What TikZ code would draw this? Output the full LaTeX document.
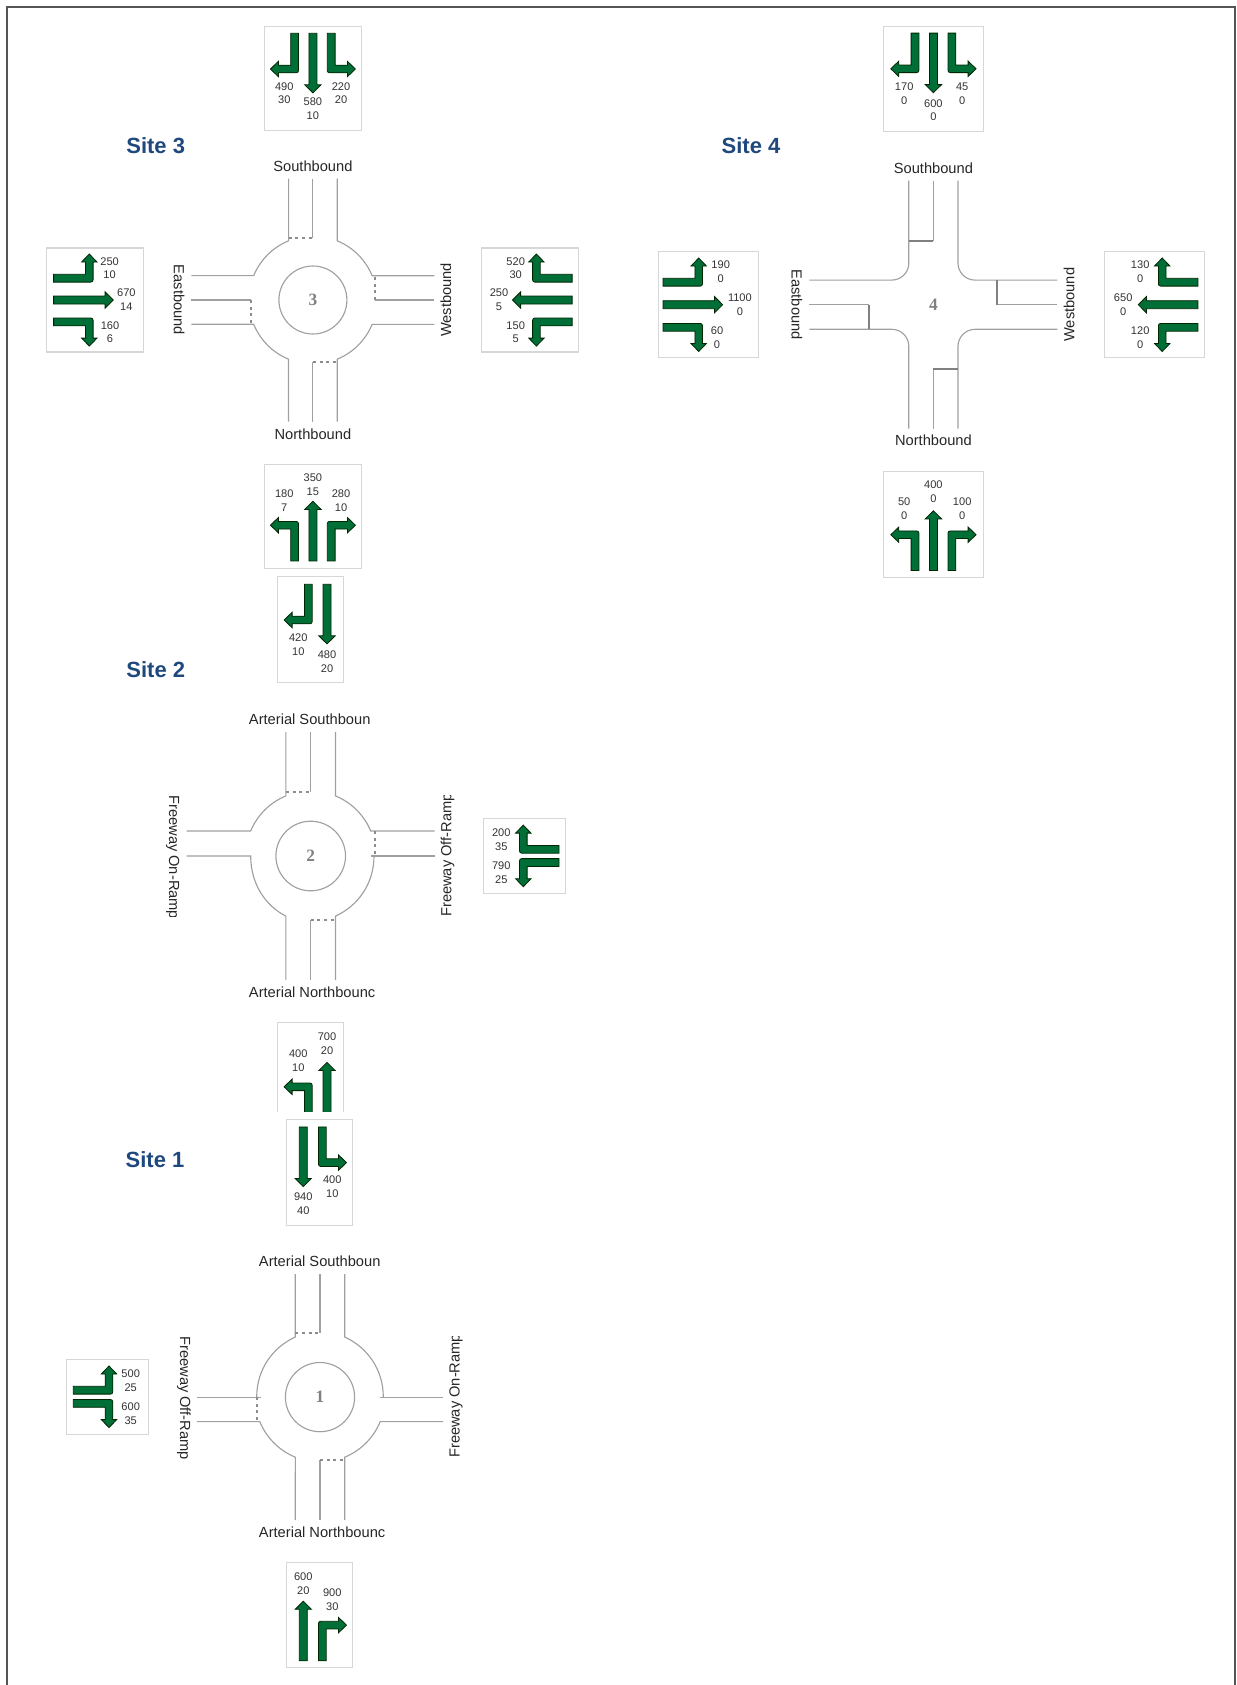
\documentclass[tikz,border=0pt]{standalone}
\usepackage{fontspec}
\setmainfont{Liberation Sans}
\newfontfamily\digitfont{Liberation Serif}
\usepackage{xcolor}
\definecolor{sitetitle}{RGB}{31,73,125}
\definecolor{turngreen}{RGB}{0,110,55}
\definecolor{roadgray}{RGB}{160,160,160}
\definecolor{boxgray}{RGB}{215,215,215}
\definecolor{framegray}{RGB}{85,85,85}
\newcommand{\turnpath}{(-3.9,0) -- (-3.9,-31.9) -- (-16.2,-31.9) -- (-16.2,-28) -- (-24.2,-35.7)
  -- (-16.2,-43.4) -- (-16.2,-39.5) -- (1.7,-39.5) arc[start angle=-90,end angle=0,radius=2.2] -- (3.9,0) -- cycle}

\begin{document}
\begin{tikzpicture}[
    x=0.75pt,y=0.75pt,
    sigbox/.style={rectangle,draw=boxgray,fill=white,line width=0.8pt,inner sep=0pt,outer sep=0pt},
    boxthree/.style={sigbox,minimum width=72.8pt,minimum height=78pt},
    boxfour/.style={sigbox,minimum width=75pt,minimum height=79.3pt},
    boxtall/.style={sigbox,minimum width=49.6pt,minimum height=79pt},
    boxside/.style={sigbox,minimum width=61.4pt,minimum height=56.2pt},
    vol/.style={font=\fontsize{8.3}{10.4}\selectfont,align=center,inner sep=0pt,text=black!80},
    approach/.style={font=\fontsize{11}{13}\selectfont,inner sep=0pt,text=black!85},
    sitename/.style={font=\fontsize{16.5}{19}\selectfont\bfseries,text=sitetitle,inner sep=0pt},
    sitenum/.style={font=\fontsize{13}{15}\selectfont\digitfont\bfseries,text=black!50,inner sep=0pt},
    road/.style={draw=roadgray,line width=0.85pt},
    yieldline/.style={draw=black!45,line width=1.5pt,dash pattern=on 2.2pt off 2.8pt},
    stopline/.style={draw=black!50,line width=1.5pt},
    signal/.style={draw=black!85!green,fill=turngreen,line width=0.6pt,line join=miter},
    thru/.pic={
      \path[signal] (-4,0) -- (-4,-51.5) -- (-8.2,-51.5) -- (0,-59.6) -- (8.2,-51.5) -- (4,-51.5) -- (4,0) -- cycle;
    },
    turnl/.pic={
      \path[signal] \turnpath;
    },
    turnr/.pic={
      \path[signal,xscale=-1] \turnpath;
    }
  ]
    \useasboundingbox (0,0) rectangle (1236,-1685);
    \draw[framegray,line width=1pt] (7,-1685) -- (7,-7) -- (1235,-7) -- (1235,-1685);

    % site 3
    \node[sitename] (title3) at (155.7,-146) {Site 3};
    \begin{scope}[shift={(312.9,-300)}]
      \foreach \ang in {0,90,180,270} {
        \draw[road,rotate=\ang] (-24.3,121.5) -- (-24.3,59.2) arc[start angle=112.3,end angle=157.6,radius=64] -- (-121.5,24.4);
      }
      \draw[road] (0,121.5) -- (0,62.2);
      \draw[road] (0,-121.5) -- (0,-62.2);
      \draw[road] (-121.5,0) -- (-62.2,0);
      \draw[road] (121.5,0) -- (62.2,0);
      \draw[yieldline] (-24.3,62.2) -- (0,62.2);
      \draw[yieldline] (0,-62.2) -- (24.3,-62.2);
      \draw[yieldline] (-62.2,0) -- (-62.2,-24.4);
      \draw[yieldline] (62.2,0) -- (62.2,24.4);
      \draw[road] (0,0) circle[radius=34];
      \node[sitenum] (num3) at (0,0) {3};
    \end{scope}
    \node[approach] (sb3) at (312.9,-166.5) {Southbound};
    \node[approach] (nb3) at (312.9,-434) {Northbound};
    \node[approach,rotate=-90] (eb3) at (179,-300) {Eastbound};
    \node[approach,rotate=90] (wb3) at (446,-300) {Westbound};

    \node[boxthree] (box3s) at (312.9,-78.4) {};
    \pic at (294.6,-33.3) {turnl};
    \pic at (312.9,-33.3) {thru};
    \pic at (331.2,-33.3) {turnr};
    \node[vol] (v3sl) at (284.3,-93.2) {490\\30};
    \node[vol] (v3st) at (312.9,-109.1) {580\\10};
    \node[vol] (v3sr) at (341,-93.2) {220\\20};

    \node[boxthree] (box3e) at (95.1,-300) {};
    \pic[rotate=90] at (53.6,-278.2) {turnr};
    \pic[rotate=90] at (53.6,-300) {thru};
    \pic[rotate=90] at (53.6,-321.9) {turnl};
    \node[vol] (v3el) at (109.6,-268.2) {250\\10};
    \node[vol] (v3et) at (126.4,-300) {670\\14};
    \node[vol] (v3er) at (110,-332.2) {160\\6};

    \node[boxthree] (box3w) at (530.4,-300) {};
    \pic[rotate=-90] at (572.1,-278.2) {turnl};
    \pic[rotate=-90] at (572.1,-300) {thru};
    \pic[rotate=-90] at (572.1,-321.9) {turnr};
    \node[vol] (v3wr) at (515.7,-268.2) {520\\30};
    \node[vol] (v3wt) at (499,-300) {250\\5};
    \node[vol] (v3wl) at (515.7,-332.2) {150\\5};

    \node[boxthree] (box3n) at (312.9,-516.1) {};
    \pic[rotate=180] at (294.6,-560.9) {turnr};
    \pic[rotate=180] at (312.9,-560.9) {thru};
    \pic[rotate=180] at (331.2,-560.9) {turnl};
    \node[vol] (v3nr) at (284.3,-500.6) {180\\7};
    \node[vol] (v3nt) at (312.9,-484.6) {350\\15};
    \node[vol] (v3nl) at (341,-500.6) {280\\10};

    % site 4
    \node[sitename] (title4) at (751,-146) {Site 4};
    \begin{scope}[shift={(933.4,-304.7)}]
      \foreach \ang in {0,90,180,270} {
        \draw[road,rotate=\ang] (-24.6,124) -- (-24.6,41.6) arc[start angle=0,end angle=-90,radius=17] -- (-124,24.6);
      }
      \draw[road] (0,124) -- (0,64);
      \draw[road] (0,-124) -- (0,-64);
      \draw[road] (-124,0) -- (-64,0);
      \draw[road] (124,0) -- (64,0);
      \draw[stopline] (-24.6,64) -- (0,64);
      \draw[stopline] (0,-64) -- (24.6,-64);
      \draw[stopline] (-64,0) -- (-64,-24.6);
      \draw[stopline] (64,0) -- (64,24.6);
      \node[sitenum] (num4) at (0,0) {4};
    \end{scope}
    \node[approach] (sb4) at (933.4,-167.8) {Southbound};
    \node[approach] (nb4) at (933.4,-440.6) {Northbound};
    \node[approach,rotate=-90] (eb4) at (796.9,-304.7) {Eastbound};
    \node[approach,rotate=90] (wb4) at (1069.2,-304.7) {Westbound};

    \node[boxfour] (box4s) at (933.4,-79) {};
    \pic at (915,-33.1) {turnl};
    \pic at (933.4,-33.1) {thru};
    \pic at (951.9,-33.1) {turnr};
    \node[vol] (v4sl) at (904.2,-94) {170\\0};
    \node[vol] (v4st) at (933.4,-110.2) {600\\0};
    \node[vol] (v4sr) at (962.2,-94) {45\\0};

    \node[boxfour] (box4e) at (708.6,-304.3) {};
    \pic[rotate=90] at (663,-282.2) {turnr};
    \pic[rotate=90] at (663,-304.7) {thru};
    \pic[rotate=90] at (663,-327.3) {turnl};
    \node[vol] (v4el) at (720.7,-271.6) {190\\0};
    \node[vol] (v4et) at (739.9,-304.4) {1100\\0};
    \node[vol] (v4er) at (717,-337.5) {60\\0};

    \node[boxfour] (box4w) at (1154.8,-304.3) {};
    \pic[rotate=-90] at (1197.9,-282.2) {turnl};
    \pic[rotate=-90] at (1197.9,-304.7) {thru};
    \pic[rotate=-90] at (1197.9,-327.3) {turnr};
    \node[vol] (v4wr) at (1140.2,-271.6) {130\\0};
    \node[vol] (v4wt) at (1123.2,-304.4) {650\\0};
    \node[vol] (v4wl) at (1140.2,-337.5) {120\\0};

    \node[boxfour] (box4n) at (933.4,-524.2) {};
    \pic[rotate=180] at (915,-570.4) {turnr};
    \pic[rotate=180] at (933.4,-570.4) {thru};
    \pic[rotate=180] at (951.9,-570.4) {turnl};
    \node[vol] (v4nr) at (904.2,-509) {50\\0};
    \node[vol] (v4nt) at (933.4,-492.1) {400\\0};
    \node[vol] (v4nl) at (962.2,-509) {100\\0};

    % site 2
    \node[sitename] (title2) at (155.8,-669.6) {Site 2};
    \begin{scope}[shift={(310.7,-856)}]
      \draw[road] (-24.8,124) -- (-24.8,60.1) arc[start angle=112.4,end angle=157.4,radius=65] -- (-124,25);
      \draw[road] (24.8,124) -- (24.8,60.1) arc[start angle=67.6,end angle=22.6,radius=65] -- (124,25);
      \draw[road] (-124,0) -- (-60,0) .. controls (-60,-28) and (-45,-50) .. (-24.8,-60.1) -- (-24.8,-124);
      \draw[road] (63.3,0) .. controls (63.3,-28) and (47,-50) .. (24.8,-60.1) -- (24.8,-124);
      \draw[road] (124,0) -- (60,0);
      \draw[road] (0,124) -- (0,64);
      \draw[road] (0,-124) -- (0,-64);
      \draw[yieldline] (-24.8,64) -- (0,64);
      \draw[yieldline] (0,-64) -- (24.8,-64);
      \draw[yieldline] (64,25) -- (64,0);
      \draw[road] (0,0) circle[radius=34.8];
      \node[sitenum] (num2) at (0,0) {2};
    \end{scope}
    \node[approach,anchor=west] (sb2) at (248.7,-719) {Arterial Southboun};
    \node[approach,anchor=west] (nb2) at (248.7,-992) {Arterial Northbounc};
    \begin{scope}
      \clip (160,-795) rectangle (190,-916);
      \node[approach,rotate=-90,anchor=west] (on2) at (172.7,-795) {Freeway On-Ramp};
    \end{scope}
    \begin{scope}
      \clip (435,-795) rectangle (460,-917);
      \node[approach,rotate=90,anchor=west] (off2) at (447.7,-917) {Freeway Off-Ramp};
    \end{scope}

    \node[boxtall] (box2s) at (310.7,-629.4) {};
    \pic at (308.3,-584.3) {turnl};
    \pic at (327,-584.3) {thru};
    \node[vol] (v2sl) at (298.3,-644.3) {420\\10};
    \node[vol] (v2st) at (327,-661.4) {480\\20};

    \node[boxside] (box2w) at (524.7,-855.7) {};
    \pic[rotate=-90] at (559,-849.3) {turnl};
    \pic[rotate=-90] at (559,-862.5) {turnr};
    \node[vol] (v2wr) at (501.3,-839.3) {200\\35};
    \node[vol] (v2wl) at (501.3,-872.5) {790\\25};

    \begin{scope}
      \clip (270,-1015) rectangle (350,-1111);
      \node[boxtall] (box2n) at (310.7,-1075.6) {};
      \pic[rotate=180] at (308.3,-1122.5) {turnr};
      \pic[rotate=180] at (327,-1122) {thru};
      \node[vol] (v2nr) at (298.3,-1061) {400\\10};
      \node[vol] (v2nt) at (327,-1044) {700\\20};
    \end{scope}

    % site 1
    \node[sitename] (title1) at (155,-1160) {Site 1};
    \begin{scope}[shift={(320,-1397.1)}]
      \draw[road] (-24.7,123) -- (-24.7,60.1) .. controls (-47,50) and (-63.3,28) .. (-63.3,0);
      \draw[road] (24.7,123) -- (24.7,60.1) .. controls (47,50) and (63.3,28) .. (63.3,0);
      \draw[road] (-123,0) -- (-59.5,0);
      \draw[road] (123,0) -- (59.5,0);
      \draw[road] (-123,-24.5) -- (-60.2,-24.5) arc[start angle=202.2,end angle=247.7,radius=65] -- (-24.7,-123);
      \draw[road] (123,-24.5) -- (60.2,-24.5) arc[start angle=-22.2,end angle=-67.7,radius=65] -- (24.7,-123);
      \draw[road] (0,123) -- (0,64);
      \draw[road] (0,-123) -- (0,-63.2);
      \draw[yieldline] (-24.7,64) -- (0,64);
      \draw[yieldline] (0,-63.2) -- (24.7,-63.2);
      \draw[yieldline] (-63.5,0) -- (-63.5,-24.5);
      \draw[road] (0,0) circle[radius=34.6];
      \node[sitenum] (num1) at (0,0) {1};
    \end{scope}
    \node[approach,anchor=west] (sb1) at (258.7,-1261) {Arterial Southboun};
    \node[approach,anchor=west] (nb1) at (258.7,-1532) {Arterial Northbounc};
    \begin{scope}
      \clip (170,-1336) rectangle (198,-1458);
      \node[approach,rotate=-90,anchor=west] (off1) at (184,-1336) {Freeway Off-Ramp};
    \end{scope}
    \begin{scope}
      \clip (444,-1336) rectangle (470,-1458);
      \node[approach,rotate=90,anchor=west] (on1) at (456,-1458) {Freeway On-Ramp};
    \end{scope}

    \node[boxtall] (box1s) at (319.8,-1172.5) {};
    \pic at (303.3,-1126.9) {thru};
    \pic at (322.3,-1126.9) {turnr};
    \node[vol] (v1st) at (303.3,-1203.9) {940\\40};
    \node[vol] (v1sr) at (332.3,-1187) {400\\10};

    \node[boxside] (box1e) at (107.5,-1397) {};
    \pic[rotate=90] at (73.3,-1390.2) {turnr};
    \pic[rotate=90] at (73.3,-1403.4) {turnl};
    \node[vol] (v1el) at (130.7,-1380.3) {500\\25};
    \node[vol] (v1er) at (130.7,-1413.3) {600\\35};

    \node[boxtall] (box1n) at (319.8,-1615.2) {};
    \pic[rotate=180] at (303.3,-1660.8) {thru};
    \pic[rotate=180] at (322.3,-1660.8) {turnl};
    \node[vol] (v1nt) at (303.3,-1583.4) {600\\20};
    \node[vol] (v1nl) at (332.3,-1600) {900\\30};
\end{tikzpicture}
\end{document}
